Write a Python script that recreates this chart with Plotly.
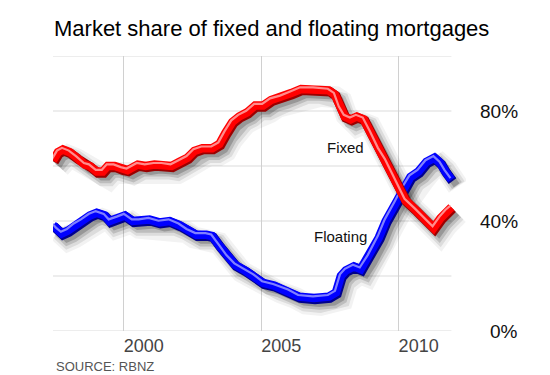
import plotly.graph_objects as go

# ---- data ----
fixed_years = [1997.43, 1997.61, 1997.79, 1998.04, 1998.30, 1998.59, 1998.77, 1999.02, 1999.24, 1999.42,
               1999.67, 1999.93, 2000.14, 2000.51, 2000.80, 2001.12, 2001.41, 2001.74, 2002.03, 2002.32,
               2002.57, 2002.86, 2003.22, 2003.48, 2003.70, 2003.95, 2004.20, 2004.49, 2004.78, 2005.07,
               2005.36, 2005.72, 2006.09, 2006.45, 2006.92, 2007.46, 2007.68, 2007.86, 2008.04, 2008.26,
               2008.48, 2008.73, 2008.99, 2009.28, 2009.53, 2009.89, 2010.25, 2010.62, 2010.91, 2011.27,
               2011.52, 2011.74, 2011.92]
fixed_share = [62, 65, 66, 65, 63, 60.5, 60, 58, 58, 60,
               60, 59, 58.5, 60.5, 60, 60.5, 60.5, 60, 61.5, 63,
               65.5, 66.5, 66.5, 68, 72, 76, 78, 79.5, 82, 82,
               84, 85, 86.5, 88, 88, 87.5, 86, 81, 78, 77,
               78, 77, 72, 66, 62, 55, 47.5, 44, 41, 37.5,
               41, 43.5, 45]

floating_years = [1997.43, 1997.57, 1997.75, 1997.97, 1998.22, 1998.48, 1998.77, 1999.02, 1999.31, 1999.49,
                  1999.78, 2000.04, 2000.33, 2000.58, 2000.94, 2001.30, 2001.67, 2002.03, 2002.32, 2002.64,
                  2003.01, 2003.22, 2003.48, 2003.77, 2004.06, 2004.42, 2004.75, 2005.07, 2005.47, 2006.01,
                  2006.38, 2006.92, 2007.46, 2007.72, 2007.90, 2008.08, 2008.37, 2008.62, 2008.91, 2009.28,
                  2009.53, 2009.89, 2010.18, 2010.43, 2010.72, 2011.01, 2011.30, 2011.52, 2011.70, 2011.92]
floating_share = [38.5, 37, 35.5, 36.5, 38.5, 40, 42, 43, 42, 40,
                  41, 42, 40, 40, 40.5, 39.5, 40, 38.5, 36.5, 35,
                  35, 34.5, 31, 27, 24, 22, 20, 17.5, 16.5, 14.5,
                  12.5, 12, 12.5, 14, 20, 22, 23.5, 22.5, 27, 34,
                  40, 46.5, 52, 56, 58, 61.5, 63, 61, 58, 55]

x_ticks = [2000, 2005, 2010]
x_tick_labels = ["2000", "2005", "2010"]
y_grid = [0, 20, 40, 60, 80, 100]
y_ticks = [0, 40, 80]
y_tick_labels = ["0%", "40%", "80%"]

title_text = "Market share of fixed and floating mortgages"
source_text = "SOURCE: RBNZ"
series = [
    ("Floating", floating_years, floating_share, "#0000ff", "#00008c", "#8080ff", 2007.90, 34.2),
    ("Fixed", fixed_years, fixed_share, "#ff0000", "#9a0000", "#ff8c8c", 2008.08, 66.9),
]

X_MIN, X_MAX_DATA, X_MAX = 1997.43, 2011.92, 2012.45
FONT = "Liberation Sans, Arial, sans-serif"
ML, MR, MT, MB = 53, 84, 56, 44

fig = go.Figure()

# soft drop shadows first
for name, xs, ys, c, dark, light, lx, ly in series:
    for w, op, dx, dy in [(22, 0.05, 0.24, -2.5), (17, 0.09, 0.22, -2.3), (12, 0.14, 0.2, -2.1), (7, 0.2, 0.19, -2.0)]:
        fig.add_trace(go.Scatter(
            x=[v + dx for v in xs], y=[v + dy for v in ys], mode="lines",
            line=dict(color=f"rgba(0,0,0,{op})", width=w),
            hoverinfo="skip", showlegend=False))

# tubes: dark edge, body, highlight
for name, xs, ys, c, dark, light, lx, ly in series:
    fig.add_trace(go.Scatter(
        x=[v + 0.04 for v in xs], y=[v - 0.5 for v in ys], mode="lines",
        line=dict(color=dark, width=9.5), hoverinfo="skip", showlegend=False))
    fig.add_trace(go.Scatter(
        x=xs, y=ys, mode="lines", name=name,
        line=dict(color=c, width=8.5), showlegend=False))
    fig.add_trace(go.Scatter(
        x=[v - 0.035 for v in xs], y=[v + 0.6 for v in ys], mode="lines",
        line=dict(color=light, width=2.2), hoverinfo="skip", showlegend=False))

# horizontal gridlines (limited to the chart's data span)
for g in y_grid:
    fig.add_shape(type="line", xref="x", yref="y", x0=X_MIN, x1=X_MAX_DATA, y0=g, y1=g,
                  line=dict(color="#dcdcdc", width=1.2), layer="below")

plot_w = 550 - ML - MR
plot_h = 375 - MT - MB
annotations = []
for name, xs, ys, c, dark, light, lx, ly in series:
    annotations.append(dict(x=lx, y=ly, xref="x", yref="y", text=name, showarrow=False,
                            font=dict(family=FONT, size=15, color="#111111")))
for v, t in zip(y_ticks, y_tick_labels):
    annotations.append(dict(x=(520 - ML) / plot_w, y=v, xref="paper", yref="y", text=t, showarrow=False,
                            xanchor="right", yanchor="middle",
                            font=dict(family=FONT, size=19, color="#111111")))
annotations.append(dict(x=(54 - ML) / plot_w, y=(375 - MB - 366) / plot_h, xref="paper", yref="paper",
                        text=source_text, showarrow=False, xanchor="left", yanchor="middle",
                        font=dict(family=FONT, size=13, color="#555555")))

fig.update_layout(
    width=550, height=375,
    margin=dict(l=ML, r=MR, t=MT, b=MB),
    paper_bgcolor="white", plot_bgcolor="white",
    title=dict(text=title_text, x=54 / 550, xanchor="left", xref="container",
               y=1 - 28 / 375, yanchor="middle", yref="container",
               font=dict(family=FONT, size=22, color="#000000")),
    xaxis=dict(range=[X_MIN, X_MAX], tickvals=x_ticks, ticktext=x_tick_labels,
               showgrid=True, gridcolor="#d0d0d0", gridwidth=1.2, zeroline=False,
               showline=False, ticks="", ticklabelshift=20, ticklabelstandoff=2,
               tickfont=dict(family=FONT, size=18, color="#444444")),
    yaxis=dict(range=[0, 100], showgrid=False, zeroline=False, showline=False,
               showticklabels=False, ticks=""),
    annotations=annotations,
    showlegend=False,
)

fig.write_html("out.html", config={"displayModeBar": False},
               post_script="document.body.style.margin='0px';document.body.style.padding='0px';")
